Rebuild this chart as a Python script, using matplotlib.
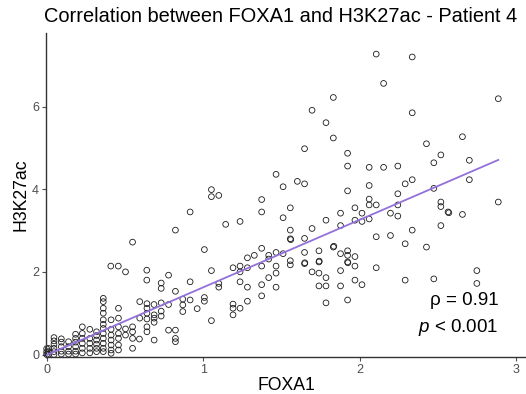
import numpy as np
import matplotlib
matplotlib.use("Agg")
import matplotlib.pyplot as plt

plt.rcParams["font.family"] = ["Liberation Sans", "DejaVu Sans"]
plt.rcParams["mathtext.fontset"] = "custom"
plt.rcParams["mathtext.it"] = "Liberation Sans:italic"
plt.rcParams["mathtext.rm"] = "Liberation Sans"

title = "Correlation between FOXA1 and H3K27ac - Patient 4"
x_label = "FOXA1"
y_label = "H3K27ac"
rho_text = "ρ = 0.91"
p_text = r"$p$ < 0.001"
x_ticks = [0, 1, 2, 3]
y_ticks = [0, 2, 4, 6]

# Linear trend of H3K27ac on FOXA1
fit_slope = 1.635
fit_intercept = -0.01

# Low-signal regions: FOXA1 values shared by several regions
col_foxa1 = [0.0, 0.011, 0.047, 0.094, 0.140, 0.185, 0.228, 0.276,
             0.319, 0.362, 0.412, 0.459, 0.504, 0.549]
col_h3k27ac = [
    [0.0, 0.06, 0.14],
    [0.0, 0.07, 0.15],
    [0.0, 0.07, 0.15, 0.25, 0.33, 0.41],
    [0.01, 0.08, 0.19, 0.30, 0.38],
    [0.01, 0.08, 0.19, 0.31],
    [0.01, 0.08, 0.19, 0.30, 0.39, 0.49],
    [0.04, 0.15, 0.27, 0.39, 0.51, 0.67],
    [0.04, 0.15, 0.27, 0.39, 0.61],
    [0.07, 0.15, 0.25, 0.35, 0.46, 0.55],
    [0.07, 0.15, 0.27, 0.39, 0.51, 0.63, 0.73, 0.84, 1.00, 1.12, 1.28, 1.36],
    [0.03, 0.11, 0.23, 0.35, 0.47, 0.61, 0.84],
    [0.11, 0.23, 0.39, 0.51, 0.67, 0.88, 1.12],
    [0.47, 0.62],
    [0.15, 0.39, 0.55, 0.67, 2.72],
]

# Remaining regions (FOXA1, H3K27ac)
foxa1 = [
    2.106, 2.336, 2.153, 1.832, 2.886, 1.696, 2.336, 1.785, 1.832, 2.657,
    2.427, 1.648, 1.923, 2.519, 2.701, 2.474, 1.923, 2.061, 2.153, 2.244,
    1.466, 2.336, 2.701, 2.291, 1.602, 1.648, 1.511, 2.061, 1.053, 1.053,
    1.100, 2.474, 1.923, 2.244, 1.374, 2.061, 2.519, 2.519, 2.886, 2.061,
    2.106, 2.244, 1.557, 1.970, 1.374, 1.878, 2.015, 2.197, 2.565, 2.570,
    2.657, 2.244, 1.511, 2.061, 1.785, 1.970, 2.015, 1.144, 1.236, 1.878,
    2.519, 1.557, 1.696, 2.336, 2.106, 2.197, 1.557, 1.560, 1.648, 1.008,
    1.374, 1.283, 1.327, 1.419, 1.419, 1.466, 1.511, 1.648, 1.740, 1.832,
    1.835, 1.878, 1.923, 1.923, 1.970, 2.291, 2.427, 1.053, 1.191, 1.236,
    1.283, 1.236, 1.374, 1.466, 1.466, 1.419, 1.557, 1.557, 1.648, 1.650,
    1.740, 1.742, 1.696, 1.740, 1.785, 1.878, 1.923, 1.925, 1.970, 2.106,
    1.100, 1.100, 1.236, 1.283, 1.374, 1.466, 1.740, 1.785, 1.878, 1.970,
    2.015, 2.291, 2.474, 2.749, 2.749, 1.008, 1.008, 1.191, 1.191, 1.191,
    1.236, 1.283, 1.374, 1.785, 1.923, 1.053, 0.917, 0.823, 0.410, 0.458,
    0.504, 0.640, 0.640, 0.779, 0.732, 0.732, 0.917, 0.823, 0.870, 0.870,
    0.870, 0.962, 0.917, 0.779, 0.732, 0.732, 0.732, 0.686, 0.641, 0.641,
    0.641, 0.641, 0.641, 0.641, 0.687, 0.687, 0.687, 0.595, 0.595, 0.687,
    0.823, 0.823, 0.823, 0.779, 0.593,
]
h3k27ac = [
    7.27, 7.20, 6.56, 6.22, 6.19, 5.91, 5.85, 5.61, 5.24, 5.27,
    5.10, 4.98, 4.87, 4.83, 4.70, 4.64, 4.56, 4.53, 4.53, 4.56,
    4.36, 4.23, 4.23, 4.13, 4.19, 4.13, 4.06, 4.09, 3.99, 3.82,
    3.85, 4.02, 3.96, 3.89, 3.75, 3.76, 3.69, 3.58, 3.69, 3.62,
    3.62, 3.62, 3.55, 3.55, 3.45, 3.42, 3.42, 3.42, 3.45, 3.43,
    3.39, 3.35, 3.31, 3.28, 3.25, 3.25, 3.22, 3.15, 3.22, 3.12,
    3.12, 3.01, 3.05, 3.01, 2.85, 2.88, 2.80, 2.78, 2.81, 2.54,
    2.57, 2.34, 2.40, 2.40, 2.31, 2.47, 2.44, 2.47, 2.51, 2.60,
    2.62, 2.44, 2.51, 2.40, 2.37, 2.68, 2.60, 2.03, 2.10, 2.14,
    2.10, 2.00, 2.14, 2.14, 1.97, 1.86, 2.27, 2.17, 2.20, 2.22,
    2.24, 2.26, 2.00, 1.97, 1.86, 2.03, 2.24, 2.22, 2.14, 2.10,
    1.72, 1.63, 1.76, 1.63, 1.69, 1.63, 1.66, 1.66, 1.66, 1.80,
    1.69, 1.80, 1.83, 2.03, 1.72, 1.38, 1.29, 1.22, 1.12, 0.96,
    1.12, 1.29, 1.42, 1.25, 1.32, 0.82, 3.45, 3.01, 2.14, 2.14,
    2.00, 2.04, 1.80, 1.92, 1.73, 1.60, 1.76, 1.53, 1.34, 1.20,
    1.04, 1.11, 1.32, 1.21, 1.25, 1.05, 0.93, 1.21, 1.23, 1.12,
    1.00, 0.86, 0.67, 0.55, 0.96, 0.88, 0.78, 1.28, 0.88, 0.35,
    0.59, 0.39, 0.31, 0.59, 0.375,
]

# Assemble the full table of regions
xs = list(foxa1)
ys = list(h3k27ac)
for cx, cys in zip(col_foxa1, col_h3k27ac):
    xs.extend([cx] * len(cys))
    ys.extend(cys)
xs = np.array(xs)
ys = np.array(ys)

fig = plt.figure(figsize=(5.26, 3.94), dpi=100)
ax = fig.add_axes([46 / 526, 37 / 394, 480 / 526, 324 / 394])

ax.scatter(xs, ys, s=17, facecolors="none", edgecolors="#1a1a1a",
           linewidths=0.6, zorder=2, clip_on=False)

# Trend line over the observed FOXA1 range
fit_x = np.array([xs.min(), xs.max()])
ax.plot(fit_x, fit_slope * fit_x + fit_intercept, color="#9370DB", lw=1.3,
        zorder=3)

ax.text(2.885, 1.31, rho_text, ha="right", va="center", fontsize=13.5,
        color="black")
ax.text(2.885, 0.66, p_text, ha="right", va="center", fontsize=13.5,
        color="black")

ax.set_xlim(-0.004, 3.063)
ax.set_ylim(-0.06, 7.78)
ax.set_xticks(x_ticks)
ax.set_yticks(y_ticks)
ax.tick_params(axis="both", colors="#4D4D4D", labelsize=9, length=3,
               width=0.8, pad=2)
for side in ("top", "right"):
    ax.spines[side].set_visible(False)
for side in ("left", "bottom"):
    ax.spines[side].set_color("#333333")
    ax.spines[side].set_linewidth(1.0)

ax.set_xlabel(x_label, fontsize=12.7, labelpad=1)
ax.set_ylabel(y_label, fontsize=12.7, labelpad=2)
fig.text(44 / 526, 1 - 17 / 394, title, fontsize=14.4, ha="left",
         va="center")

fig.savefig("out.png", dpi=100)
